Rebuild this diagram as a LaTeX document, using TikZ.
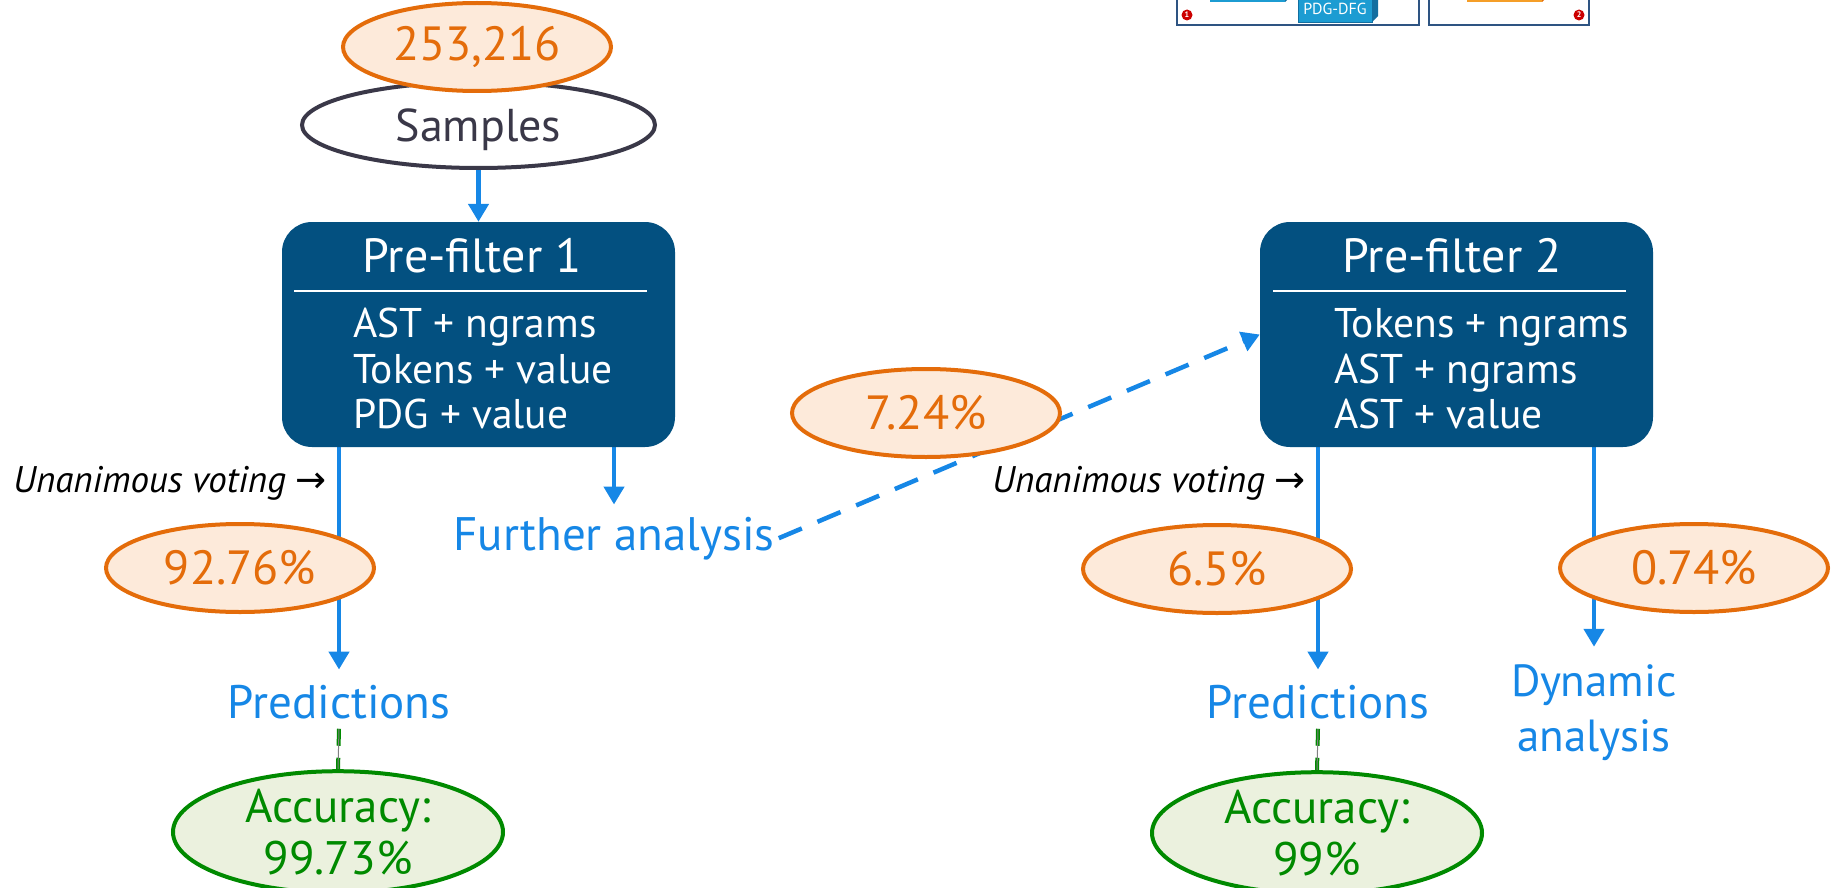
\documentclass[tikz,border=0pt]{standalone}
\usepackage{fontspec}
\setmainfont{PT Sans}
\newfontfamily\symfont{DejaVu Sans}
\usetikzlibrary{shapes.geometric,arrows.meta}
\definecolor{boxblue}{RGB}{3,80,128}
\definecolor{arrblue}{RGB}{22,135,230}
\definecolor{orng}{RGB}{228,108,10}
\definecolor{orngfill}{RGB}{253,234,218}
\definecolor{grn}{RGB}{0,138,0}
\definecolor{grnfill}{RGB}{235,241,222}
\definecolor{sgray}{RGB}{58,56,72}
\definecolor{frameblue}{RGB}{46,84,130}
\definecolor{cubeblue}{RGB}{28,156,210}
\definecolor{cubeside}{RGB}{18,110,160}
\definecolor{cubeorange}{RGB}{245,158,40}
\definecolor{mkred}{RGB}{204,0,0}
\pgfdeclarelayer{bg}
\pgfsetlayers{bg,main}
\tikzset{
  pct/.style={ellipse, draw=orng, fill=orngfill, line width=4pt, text=orng,
    minimum width=268pt, minimum height=88pt, inner sep=0pt,
    font=\fontsize{48}{58}\selectfont},
  acc/.style={ellipse, draw=grn, fill=grnfill, line width=4pt, text=grn,
    minimum width=330pt, minimum height=120pt, inner sep=0pt, align=center,
    font=\fontsize{47}{52}\selectfont},
  filterbox/.style={rectangle, rounded corners=30pt, fill=boxblue,
    minimum width=393pt, minimum height=225pt, inner sep=0pt},
  flow/.style={draw=arrblue, line width=4.5pt, -{Triangle[length=18pt,width=20pt]}},
  outtext/.style={text=arrblue, inner sep=0pt, font=\fontsize{47}{55}\selectfont},
  hdr/.style={text=white, anchor=base, inner sep=0pt, font=\fontsize{48}{54}\selectfont},
  feat/.style={text=white, anchor=base west, inner sep=0pt, font=\fontsize{41.5}{46}\selectfont},
  vote/.style={anchor=base west, inner sep=0pt, font=\fontsize{37}{42}\selectfont\itshape},
  hrule/.style={draw=white, line width=2pt},
  marker/.style={circle, fill=mkred, inner sep=0pt, minimum size=11pt, text=white,
    font=\fontsize{8}{8}\selectfont\bfseries}
}
\begin{document}
\begin{tikzpicture}[x=1pt,y=-1pt]
\useasboundingbox (0,0) rectangle (1831,888);

% top-right fragment of another figure
\draw[frameblue, line width=2pt, fill=white] (1177,-5) rectangle (1419,25);
\draw[frameblue, line width=2pt, fill=white] (1429,-5) rectangle (1589,25);
\fill[cubeblue] (1210,-5) rectangle (1285,2);
\fill[cubeside] (1285,2) -- (1291,-4) -- (1291,-5) -- (1285,-5) -- cycle;
\fill[cubeside] (1372,22) -- (1378,16) -- (1378,-5) -- (1372,-5) -- cycle;
\node[draw=cubeside, line width=0.8pt, fill=cubeblue, minimum width=74pt, minimum height=27pt,
  inner sep=0pt, text=white, font=\fontsize{16}{16}\selectfont] (pdg) at (1335,8.5) {PDG-DFG};
\fill[cubeorange] (1467,-5) rectangle (1542,2);
\fill[orng] (1542,2) -- (1548,-4) -- (1548,-5) -- (1542,-5) -- cycle;
\node[marker] (m1) at (1187,15) {1};
\node[marker] (m2) at (1579,15) {2};

% samples
\node[ellipse, draw=sgray, fill=white, line width=4pt, text=sgray, minimum width=353pt,
  minimum height=86pt, inner sep=0pt, text depth=0pt, font=\fontsize{46}{55}\selectfont] (samples) at (478.5,125) {Samples};
\node[pct] (n253) at (477,47) {253,216};

% pre-filter 1
\node[filterbox] (pf1) at (478.5,334.5) {};
\node[hdr] (h1) at (472,272) {Pre-filter 1};
\draw[hrule] (294,291) -- (647,291);
\node[feat] (f11) at (353,337) {AST + ngrams};
\node[feat] (f12) at (353,383) {Tokens + value};
\node[feat] (f13) at (353,428) {PDG + value};

% pre-filter 2
\node[filterbox] (pf2) at (1456.5,334.5) {};
\node[hdr] (h2) at (1452,272) {Pre-filter 2};
\draw[hrule] (1273,291) -- (1626,291);
\node[feat] (f21) at (1334,337) {Tokens + ngrams};
\node[feat] (f22) at (1334,383) {AST + ngrams};
\node[feat] (f23) at (1334,428) {AST + value};

% outputs
\node[outtext, anchor=base] (predL) at (339,718) {Predictions};
\node[outtext, anchor=base, inner sep=4pt] (further) at (614,550) {Further analysis};
\node[outtext, anchor=base] (predR) at (1318,718) {Predictions};
\node[outtext, align=center, font=\fontsize{45}{55}\selectfont] (dyn) at (1594,713) {Dynamic\\analysis};

% voting labels
\node[vote] (v1) at (13,492) {Unanimous voting {\symfont\upshape →}};
\node[vote] (v2) at (992,492) {Unanimous voting {\symfont\upshape →}};

% percentages
\node[pct] (e9276) at (240,568) {92.76\%};
\node[pct] (e724) at (926,413) {7.24\%};
\node[pct] (e65) at (1217,569) {6.5\%};
\node[pct] (e074) at (1694,568) {0.74\%};

% accuracies
\node[acc] (accL) at (338,832) {Accuracy:\\99.73\%};
\node[acc] (accR) at (1317,833) {Accuracy:\\99\%};

% connectors
\begin{pgfonlayer}{bg}
\draw[flow] (samples.south) -- (pf1.north);
\draw[flow] (pf1.south -| predL.north) -- ([yshift=15pt]predL.north);
\draw[flow] (pf1.south -| further.north) -- ([yshift=8pt]further.north);
\draw[flow, dash pattern=on 25pt off 17pt] (further.east) -- (pf2.west);
\draw[flow] (pf2.south -| predR.north) -- ([yshift=15pt]predR.north);
\draw[flow] (pf2.south -| dyn.north) -- ([yshift=18pt]dyn.north);
\draw[draw=gray, line width=1pt, preaction={draw=grn, line width=4pt, dash pattern=on 17pt off 12pt}]
  ([yshift=-10pt]predL.south) -- (accL.north);
\draw[draw=gray, line width=1pt, preaction={draw=grn, line width=4pt, dash pattern=on 17pt off 12pt}]
  ([yshift=-10pt]predR.south) -- (accR.north);
\end{pgfonlayer}
\end{tikzpicture}
\end{document}
